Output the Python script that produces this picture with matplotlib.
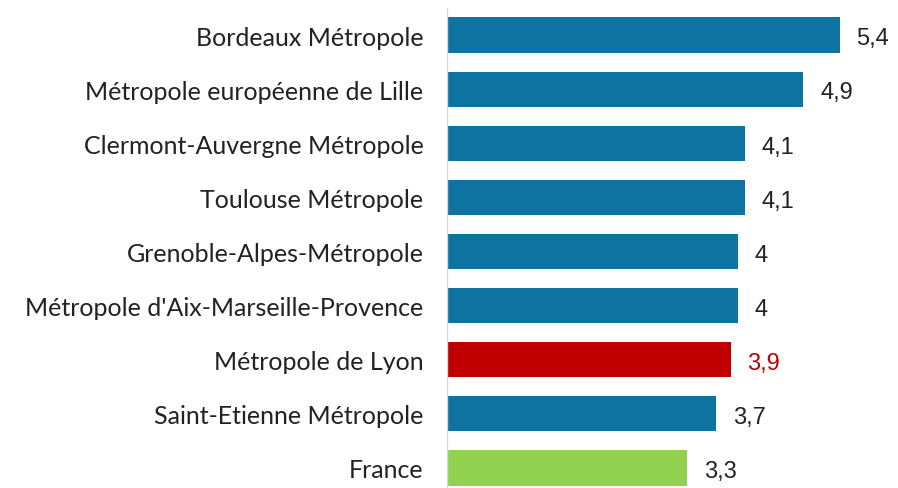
import matplotlib.pyplot as plt

labels = ["Bordeaux Métropole", "Métropole européenne de Lille", "Clermont-Auvergne Métropole",
          "Toulouse Métropole", "Grenoble-Alpes-Métropole", "Métropole d'Aix-Marseille-Provence",
          "Métropole de Lyon", "Saint-Etienne Métropole", "France"]
values = [5.4, 4.9, 4.1, 4.1, 4.0, 4.0, 3.9, 3.7, 3.3]
value_labels = ["5,4", "4,9", "4,1", "4,1", "4", "4", "3,9", "3,7", "3,3"]

blue, red, green = "#0e73a0", "#c00000", "#92d050"
colors = [blue] * 6 + [red, blue, green]
text_colors = ["#222222"] * 6 + [red, "#222222", "#222222"]

fig = plt.figure(figsize=(8.98, 4.89), dpi=100)
left = 447 / 898
top_px, bot_px = 9, 496
ax = fig.add_axes([left, (489 - bot_px) / 489, 1 - left, (bot_px - top_px) / 489])

pos = list(range(len(labels)))
ax.barh(pos, values, height=0.65, color=colors)
ax.set_ylim(len(labels) - 0.5, -0.5)
ax.set_xlim(0, 6.2)

for p, v, t, c in zip(pos, values, value_labels, text_colors):
    ax.text(v + 0.23, p + 0.06, t, va="center", ha="left", fontsize=17,
            family=["Liberation Sans", "DejaVu Sans"], color=c)

ax.set_yticks(pos)
ax.set_yticklabels(labels, family="Lato", fontsize=18, color="#222222")
ax.tick_params(axis="y", length=0, pad=17)
ax.set_xticks([])
for s in ["top", "right", "bottom"]:
    ax.spines[s].set_visible(False)
ax.spines["left"].set_color("#d9d9d9")
ax.spines["left"].set_linewidth(1)

fig.savefig("out.png", dpi=100)
